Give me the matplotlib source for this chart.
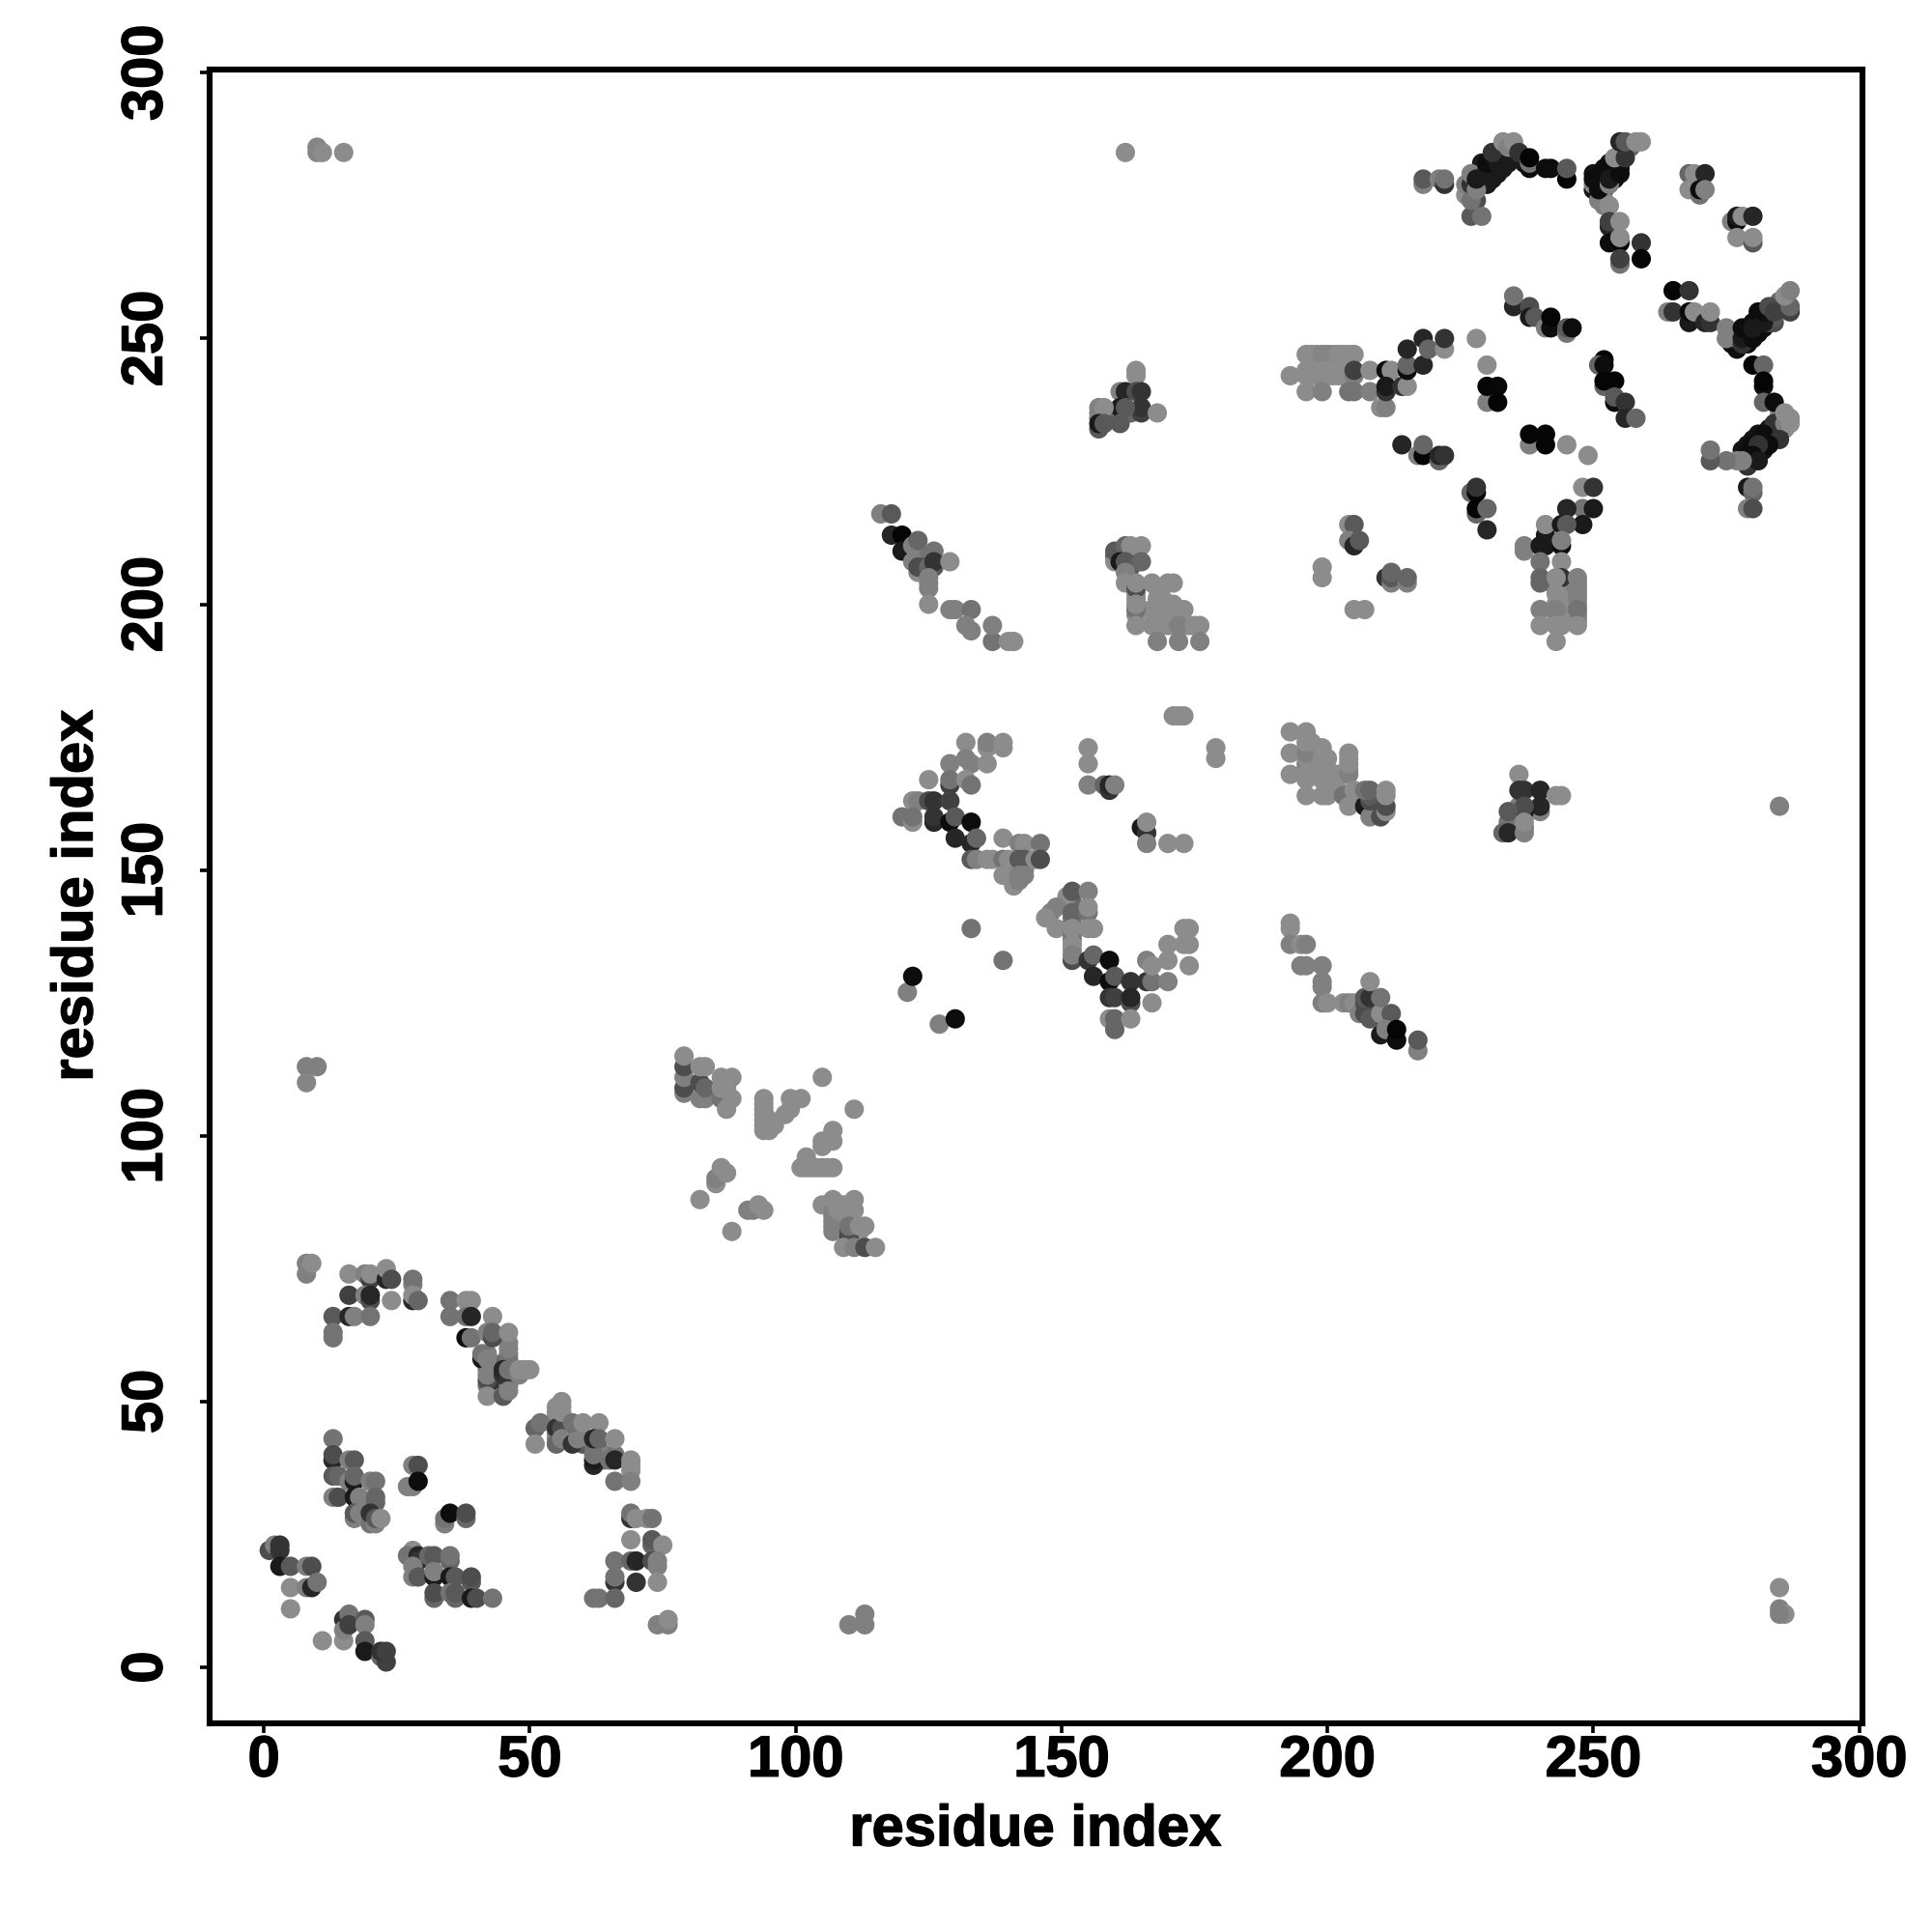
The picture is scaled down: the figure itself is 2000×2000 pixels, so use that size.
import numpy as np
import matplotlib
matplotlib.use("Agg")
import matplotlib.pyplot as plt
import matplotlib.patheffects as pe

plt.rcParams["font.family"] = ["Liberation Sans", "DejaVu Sans"]
plt.rcParams["font.weight"] = "bold"

# ----------------------------
# Contacts: (residue, residue, gray level)
# ----------------------------
dense_light = [
    (197,247,.55),(198,247,.55),(201,247,.55),(204,247,.55),(197,243,.55),(198,243,.55),
    (199,243,.55),(200,243,.55),(202,243,.55),(203,243,.55),(202,244,.55),(201,244,.55),(197,244,.55),
    (196,173,.55),(196,175,.55),(197,172,.55),(197,169,.55),(196,169,.5),(196,170,.5),(197,174,.55),
    (199,172,.55),(199,169,.55),(200,169,.55),(200,167,.55),(204,169,.55),(204,172,.55),
    (202,168,.55),(202,165,.55),(203,168,.55),
    (243,200,.55),(243,198,.55),(244,199,.55),(244,200,.55),(245,199,.55),(245,201,.55),
    (246,200,.5),(246,202,.5),(247,200,.5),(247,202,.5),(247,198,.5),(247,197,.5),(243,197,.55),
    (244,198,.55),(243,203,.55),(247,204,.5),
    (165,199,.55),(164,198,.55),(167,199,.55),(168,198,.55),(169,196,.55),(170,199,.55),
    (170,196,.55),(172,198,.55),(173,196,.55),(174,196,.55),(167,196,.55),(168,200,.55),
    (169,198,.55),(171,198,.55),(169,201,.55),(168,203,.55),(164,201,.55),(164,202,.55),
    (94,102,.55),(94,104,.55),(94,106,.55),(95,102,.55),(95,103,.55),(103,94,.55),(106,94,.55),
    (87,107,.5),(87,109,.5),(87,106,.55),(87,108,.55),(87,110,.55),(106,87,.55),(109,87,.55),
    (110,87,.55),(110,86,.55),(107,83,.5),(107,84,.5),(107,85,.5),(108,84,.5),(110,85,.55),
    (110,84,.55),(111,83,.55),(112,82,.55),(111,82,.55),
]
dense_mid = [
    (42,53,.45),(42,56,.5),(42,59,.5),(43,57,.5),(44,57,.5),(43,54,.2),(46,53,.5),(46,54,.45),
    (46,57,.45),(46,59,.5),(46,61,.5),(47,55,.5),(47,56,.5),(45,57,.4),
    (55,43,.5),(55,44,.5),(55,46,.5),(55,47,.55),(55,48,.55),(56,44,.5),(56,46,.55),(56,47,.55),
    (56,49,.55),(57,43,.5),(57,45,.5),(58,44,.5),(60,43,.5),(60,42,.35),(62,41,.4),(62,42,.45),
    (63,41,.5),(64,39,.45),(64,40,.5),(66,40,.45),(69,37,.55),
    (152,140,.5),(152,141,.45),(152,135,.55),(152,137,.5),(152,143,.5),(152,144,.4),
    (143,150,.5),(142,150,.5),(141,150,.55),(141,149,.55),
    (207,164,.4),(207,163,.3),(208,161,.4),(209,163,.4),(209,162,.35),(210,162,.45),(210,164,.45),
    (206,124,.35),(207,124,.3),(208,124,.35),(208,123,.3),(209,123,.45),(209,124,.4),(211,121,.5),
    (123,209,.5),(124,209,.45),(124,207,.35),(125,204,.5),
    (157,235,.45),(158,235,.45),(159,235,.4),(159,236,.4),(160,235,.4),(163,236,.4),
    (160,209,.35),(161,209,.3),(161,210,.4),(162,209,.35),(163,209,.4),(163,207,.35),
    (237,160,.4),(237,158,.45),(235,158,.4),(235,160,.4),(236,162,.5),
]
dense_dark = [
    (229,279,.1),(229,281,.1),(229,283,.1),(230,279,.1),(230,281,.1),(231,282,.1),(231,284,.1),
    (232,281,.1),(232,285,.15),(233,283,.15),(233,284,.15),(234,283,.1),(234,284,.1),(235,284,.1),
    (236,284,.1),(237,283,.1),(228,276,.3),(227,277,.3),
    (250,281,.08),(250,278,.08),(251,277,.08),(251,279,.08),(251,280,.08),(251,281,.08),(252,278,.08),
    (252,279,.08),(252,280,.08),(252,281,.08),(253,281,.08),(253,283,.08),(254,280,.08),(254,281,.08),
    (254,282,.08),(255,282,.08),(255,283,.08),(252,275,.5),(252,276,.5),(256,285,.4),(257,286,.4),
    (278,228,.08),(278,229,.08),
    (279,230,.08),(279,229,.08),(280,229,.08),(280,231,.08),(281,229,.08),(281,231,.08),(281,232,.08),
    (282,229,.08),(282,230,.08),(283,231,.08),(283,232,.08),(283,233,.08),(284,232,.08),(284,233,.08),
    (285,232,.08),
    (276,250,.06),(276,249,.06),(277,248,.06),(277,249,.06),(277,251,.06),(278,251,.06),(279,249,.06),
    (279,250,.06),(279,251,.06),(279,252,.06),(280,251,.06),(280,253,.06),(281,251,.06),(281,252,.06),
    (281,253,.06),(282,252,.06),(282,254,.06),(283,253,.3),(284,253,.3),(284,254,.35),(285,256,.35),(285,257,.4),
    (285,235,.55),(285,236,.55),(286,235,.55),(286,233,.55),
]
far_contacts = [
    (10,286,.52),(10,285,.52),(11,285,.55),(15,285,.55),(162,285,.55),(285,162,.5),
    (285,15,.55),(285,11,.5),(286,10,.55),(285,10,.5),(110,8,.5),(113,8,.5),(113,10,.5),
    (8,113,.5),(10,113,.5),(8,110,.52),
]
start_cluster = [
    (1,22,.3),(2,23,.5),(3,22,.2),(3,23,.2),(3,19,.1),(5,19,.35),(8,19,.5),(9,19,.3),
    (5,15,.55),(8,15,.5),(9,15,.15),(10,16,.45),(5,11,.55),(11,5,.55),(15,5,.55),
    (15,9,.2),(16,10,.45),(15,7,.5),(16,8,.25),(19,9,.35),(19,8,.5),(19,5,.35),(19,3,.1),
    (22,2,.4),(23,1,.25),(22,3,.2),(23,3,.25),
]
helix_cluster = [
    (13,43,.45),(13,39,.15),(13,40,.3),(16,39,.5),(17,39,.35),(13,36,.35),(14,36,.4),
    (16,35,.5),(17,35,.1),(17,36,.4),(20,35,.5),(21,35,.45),(13,32,.5),(14,32,.3),
    (17,32,.1),(18,32,.5),(21,31,.4),(21,32,.4),(17,28,.5),(17,29,.35),(18,29,.5),
    (20,27,.45),(20,29,.2),(21,27,.5),(21,28,.35),(22,28,.55),
    (28,38,.5),(29,38,.3),(27,34,.5),(28,34,.5),(29,35,.05),
    (34,27,.5),(34,28,.45),(35,29,.05),(38,28,.4),(38,29,.3),
]
sheet_cluster = [
    (28,22,.55),(27,21,.45),(29,21,.15),(29,20,.2),(28,19,.5),(28,17,.5),(29,17,.35),
    (31,21,.4),(32,21,.35),(35,20,.4),(35,21,.45),(32,17,.1),(32,18,.5),(35,17,.1),
    (36,17,.35),(39,16,.35),(39,17,.3),(32,13,.4),(32,14,.3),(35,14,.45),(36,13,.4),
    (36,14,.35),(39,13,.1),(40,13,.3),(43,13,.45),
    (69,28,.2),(69,29,.45),(70,28,.55),(72,28,.55),(73,28,.45),(69,24,.55),(73,23,.4),
    (73,24,.35),(75,23,.55),(66,20,.45),(69,20,.4),(70,20,.15),(73,20,.3),(74,19,.5),
    (74,20,.5),(66,16,.2),(66,17,.45),(70,16,.2),(74,16,.55),(62,13,.45),(63,13,.45),
    (66,13,.4),(74,8,.5),(76,8,.5),(76,9,.55),
]
upper_band = [
    (8,74,.5),(8,76,.5),(9,76,.55),(16,74,.55),(19,74,.5),(20,73,.25),(20,74,.55),
    (23,73,.15),(23,75,.55),(24,73,.3),(28,72,.5),(28,73,.45),(16,70,.25),(19,70,.5),
    (20,69,.3),(20,70,.15),(24,69,.55),(28,69,.15),(28,70,.55),(29,69,.4),(13,66,.35),
    (16,66,.15),(17,66,.5),(20,66,.45),(13,62,.45),(13,63,.45),
    (35,69,.45),(38,69,.55),(39,69,.55),(35,66,.45),(38,66,.45),(39,66,.15),(43,66,.55),
    (38,62,.05),(39,62,.45),(42,63,.5),(43,62,.3),(43,63,.4),(41,58,.1),(41,59,.45),
    (42,58,.5),(46,58,.45),(46,60,.5),(46,63,.55),(42,54,.3),(42,55,.5),(45,55,.2),
    (45,56,.15),(46,55,.2),(46,56,.45),(48,55,.5),(48,56,.55),(49,56,.55),(50,56,.55),
    (42,51,.55),(45,51,.35),(46,52,.5),
    (51,45,.4),(52,46,.45),(51,42,.55),(55,45,.2),(56,45,.3),(55,42,.4),(56,43,.5),
    (55,49,.55),(56,50,.55),(56,48,.55),(58,42,.2),(59,43,.5),(58,46,.45),(60,46,.55),
    (63,46,.55),(62,38,.15),(62,39,.1),(62,40,.45),(62,43,.15),(63,43,.4),(66,43,.55),
    (65,39,.45),(66,39,.15),(69,38,.55),(69,39,.55),(66,35,.45),(69,35,.5),
]
middle_cross = [
    (79,108,.5),(79,109,.3),(79,111,.5),(79,113,.3),(79,115,.55),(82,107,.5),(83,107,.5),
    (82,110,.3),(83,109,.4),(82,113,.55),(83,113,.55),(86,107,.45),(86,109,.55),(86,111,.55),
    (88,107,.55),(88,111,.55),(87,105,.55),
    (94,101,.55),(94,103,.55),(94,105,.55),(94,107,.55),(95,101,.55),(96,102,.55),(98,104,.55),
    (99,105,.55),(99,107,.55),(101,107,.55),(105,111,.55),(111,105,.55),
    (107,101,.55),(105,98,.55),(105,99,.55),(107,99,.55),(102,96,.55),(101,94,.55),(102,94,.55),
    (104,94,.55),(105,94,.55),(107,94,.55),
    (85,91,.55),(85,92,.5),(86,94,.55),(87,93,.55),(82,88,.55),(91,86,.5),(92,86,.5),
    (93,87,.55),(94,86,.55),(88,82,.55),
    (105,87,.55),(107,86,.5),(107,88,.55),(108,86,.55),(111,86,.55),(111,88,.55),
    (107,82,.5),(110,81,.25),(110,82,.3),(110,83,.45),(112,83,.55),(113,83,.55),
    (109,79,.55),(111,79,.5),(113,79,.3),(115,79,.55),
]
central_v = [
    (132,174,.55),(136,173,.55),(136,174,.5),(139,173,.55),(139,174,.55),(129,170,.5),
    (132,171,.5),(133,170,.5),(136,170,.55),(125,167,.55),(129,166,.25),(129,167,.45),
    (132,167,.55),(133,166,.45),(122,163,.55),(123,163,.5),(125,163,.3),(126,163,.2),
    (129,163,.25),(120,160,.45),(122,159,.55),(122,160,.45),(126,159,.15),(126,160,.2),
    (129,159,.05),(130,160,.35),(133,159,.05),(130,156,.15),(133,155,.15),(134,156,.4),
    (139,156,.55),(142,155,.5),(143,155,.55),(146,155,.45),(133,152,.35),(134,152,.5),
    (136,152,.55),(137,152,.55),(139,152,.45),(140,152,.55),(142,152,.35),(143,152,.35),
    (145,152,.55),(146,152,.3),(139,149,.55),(142,149,.5),(143,149,.5),(141,147,.55),
    (142,148,.5),(151,145,.55),(152,146,.35),(155,146,.5),(149,143,.5),(148,142,.5),
    (147,141,.55),(152,142,.4),(155,142,.45),(155,143,.55),(149,139,.55),(152,138,.45),
    (152,139,.55),(155,139,.55),(156,139,.55),(152,136,.55),(152,133,.3),(152,134,.5),
    (155,133,.2),(156,134,.4),(159,133,.05),(156,130,.15),(159,129,.05),(160,130,.35),
    (163,129,.2),(166,129,.2),(167,129,.45),(170,129,.5),(159,126,.2),(160,126,.25),
    (163,125,.3),(163,126,.15),(167,125,.55),(159,122,.55),(160,120,.4),(160,122,.4),
    (163,122,.55),(166,133,.5),(167,132,.55),(170,136,.55),(173,136,.55),(174,136,.55),
    (173,139,.55),(174,139,.55),(170,133,.55),(174,132,.55),
    (133,139,.45),(139,133,.45),(121,127,.5),(122,130,.05),(127,121,.5),(130,122,.05),
    (155,173,.55),(155,170,.55),(155,166,.5),(158,166,.4),(159,165,.2),(159,166,.15),
    (160,166,.5),(165,158,.1),(166,157,.2),(166,159,.55),(166,155,.5),(170,155,.55),
    (173,155,.55),(171,179,.55),(172,179,.55),(173,179,.55),(179,171,.55),(179,173,.55),
]
right_middle = [
    (193,176,.55),(196,176,.55),(193,172,.55),(196,171,.55),(196,172,.5),(196,174,.55),
    (193,168,.55),(196,167,.55),(196,168,.55),(196,164,.55),(199,173,.55),(199,171,.55),
    (200,171,.55),(199,170,.55),(199,167,.55),(199,164,.55),(200,164,.55),(201,168,.55),
    (204,168,.5),(204,170,.55),(204,171,.55),(203,164,.45),(204,162,.55),(205,165,.55),
    (207,162,.1),(208,160,.5),(208,163,.3),(208,164,.35),(207,165,.45),(208,165,.4),
    (210,160,.3),(211,161,.55),(211,162,.3),(211,164,.55),(211,165,.55),
    (236,168,.55),(236,165,.2),(237,165,.2),(240,165,.15),(240,161,.5),(240,162,.15),
    (237,161,.1),(237,162,.3),(234,159,.45),(234,161,.35),(233,157,.4),(234,157,.15),
    (237,157,.5),(237,159,.55),(243,164,.55),(244,164,.55),
    (193,139,.55),(193,140,.55),(193,136,.5),(195,136,.55),(196,136,.5),(195,132,.5),
    (196,132,.5),(199,132,.5),(199,128,.5),(199,129,.5),(199,125,.5),(200,125,.55),
    (203,125,.55),(204,125,.5),(205,125,.55),(206,123,.5),(207,123,.3),(207,125,.3),
    (207,126,.35),(208,122,.35),(208,126,.2),(208,129,.55),(210,123,.55),(210,126,.45),
    (212,123,.35),(210,119,.1),(211,120,.5),(213,118,.05),(213,120,.02),(217,116,.5),(217,118,.35),
]
upper_middle = [
    (116,217,.5),(118,217,.35),(118,213,.15),(120,213,.02),(120,210,.1),(122,211,.5),
    (123,212,.4),(122,208,.5),(126,210,.45),(123,206,.55),(123,207,.3),(125,207,.4),
    (126,207,.35),(126,208,.2),(129,208,.55),(125,203,.5),(125,205,.5),(125,200,.55),
    (129,199,.5),(130,199,.5),(133,199,.45),(133,195,.5),(132,196,.5),(137,193,.45),
    (137,196,.5),(140,193,.55),(141,193,.55),
    (164,243,.55),(164,244,.55),(161,240,.5),(162,240,.15),(164,240,.3),(165,240,.2),
    (165,236,.25),(165,237,.2),(168,236,.55),(161,237,.1),(162,237,.35),(157,236,.5),
    (157,237,.5),(158,237,.55),(157,233,.35),(157,234,.1),(158,234,.35),(161,234,.35),
    (160,208,.55),(160,210,.35),(162,211,.4),(163,211,.55),(165,211,.55),(161,208,.1),
    (162,208,.35),(165,208,.4),(162,206,.5),(162,204,.55),(164,203,.3),(164,204,.55),
    (167,204,.55),(170,204,.55),(171,204,.55),(164,199,.45),(164,200,.55),(168,199,.55),
    (168,201,.55),(171,200,.55),(173,199,.55),(164,196,.55),(168,196,.55),(171,196,.55),
    (172,196,.5),(175,196,.55),(176,196,.55),(168,193,.5),(172,193,.5),(176,193,.5),
]
top_right_left = [
    (196,247,.55),(199,247,.52),(200,247,.52),(202,247,.55),(203,247,.55),(205,247,.55),
    (193,243,.55),(196,243,.55),(196,244,.55),(199,244,.55),(200,244,.55),(201,243,.55),
    (203,244,.55),(205,243,.5),(205,244,.25),(208,244,.55),(196,240,.55),(199,240,.5),
    (204,240,.45),(205,240,.45),(208,240,.5),(210,237,.55),(211,237,.5),(211,244,.05),
    (212,244,.55),(211,240,.2),(211,241,.1),(214,241,.2),(215,241,.55),(215,244,.05),
    (215,245,.4),(215,248,.15),(218,245,.15),(218,250,.15),(219,248,.4),(222,248,.55),
    (222,250,.2),(228,250,.55),(230,245,.55),(230,238,.5),(230,241,.02),(232,241,.03),
    (232,238,.02),(214,230,.15),(217,228,.5),(218,228,.02),(218,230,.4),(221,227,.4),
    (221,228,.15),(222,228,.2),(238,230,.5),(238,232,.02),(241,230,.02),(241,232,.02),
    (245,230,.55),(249,228,.55),
    (227,221,.4),(228,221,.02),(228,222,.2),(228,217,.4),(228,218,.02),(230,218,.4),(230,214,.15),
    (248,222,.55),(250,222,.2),(248,218,.45),(245,218,.15),(250,218,.1),(248,215,.1),
    (241,213,.1),(241,215,.55),(244,215,.1),(245,215,.35),(237,210,.5),(237,211,.5),
    (240,211,.1),(241,211,.1),(244,211,.05),(244,212,.5),(240,208,.45),(244,208,.55),
    (240,204,.4),(240,205,.4),(244,205,.2),(243,205,.55),(247,203,.5),(247,205,.5),
    (243,202,.55),(244,201,.55),(247,201,.5),(247,199,.45),(243,199,.5),(240,199,.5),
    (240,196,.55),(243,196,.55),(244,196,.55),(247,196,.55),(243,193,.55),
    (199,205,.55),(199,207,.55),(204,215,.55),(205,215,.35),(204,212,.5),(205,211,.15),
    (206,212,.35),(211,205,.2),(212,204,.5),(212,205,.35),(212,206,.4),(215,204,.5),
    (215,205,.4),(205,199,.55),(207,199,.55),
]
top_right_arcs = [
    (218,279,.5),(218,280,.35),(221,280,.5),(222,279,.2),(222,280,.45),(226,277,.55),
    (226,279,.5),(227,273,.35),(229,273,.45),(227,276,.45),(227,279,.2),(227,281,.5),
    (228,278,.5),(228,280,.1),(230,282,.1),(231,280,.1),(230,283,.05),(232,283,.1),
    (233,282,.1),(231,285,.2),(233,287,.55),(234,286,.5),(235,287,.55),(236,285,.2),
    (238,282,.05),(238,283,.45),(238,284,.02),(241,282,.05),(242,282,.05),(245,280,.02),(245,282,.35),
    (250,279,.5),(250,280,.05),(251,276,.5),(251,278,.05),(252,282,.05),(253,279,.5),
    (253,280,.1),(255,281,.05),(254,284,.55),(256,284,.2),(255,287,.15),(256,287,.35),
    (258,287,.55),(259,287,.55),(253,275,.55),(253,271,.15),(253,272,.25),(255,272,.55),
    (253,268,.05),(255,268,.02),(255,269,.55),(259,268,.2),(259,265,.02),(255,264,.45),(255,265,.25),
    (268,281,.4),(269,281,.55),(268,278,.55),(271,281,.15),(270,277,.45),(270,278,.05),
    (271,278,.5),(276,272,.5),(277,272,.05),(277,273,.1),(278,273,.55),(280,273,.15),
    (277,269,.55),(280,268,.35),(280,269,.55),
    (235,256,.15),(235,258,.45),(238,256,.3),(238,254,.1),(239,254,.35),(241,252,.5),
    (242,252,.05),(242,254,.02),(245,251,.45),(245,252,.35),(246,252,.05),
    (252,246,.02),(251,245,.4),(252,245,.05),(252,241,.4),(252,242,.02),(254,242,.02),
    (254,238,.05),(254,239,.35),(256,238,.2),(256,235,.15),(258,235,.4),
    (265,259,.02),(268,259,.2),(264,255,.5),(265,255,.2),(268,253,.1),(268,255,.05),
    (269,255,.55),(271,253,.15),(272,253,.2),(272,255,.55),(275,250,.5),(275,252,.5),
    (277,250,.5),(278,249,.2),(278,250,.1),(278,252,.05),(280,250,.05),(280,252,.1),
    (281,255,.05),(282,253,.1),(282,255,.05),(283,256,.3),(284,255,.25),(287,255,.25),
    (287,256,.4),(286,258,.55),(287,259,.5),
    (280,245,.02),(282,245,.4),(282,241,.05),(282,242,.02),(282,238,.4),(284,238,.05),
    (284,234,.2),(285,233,.2),(286,234,.5),(286,236,.55),(287,234,.55),(287,235,.55),
    (282,232,.05),(285,231,.2),(283,230,.05),(280,230,.05),(281,230,.2),(279,228,.05),
    (280,228,.05),(279,226,.2),(281,227,.1),(277,227,.5),(278,227,.5),(275,227,.45),
    (272,227,.35),(272,229,.45),(279,222,.1),(280,221,.4),(280,222,.45),(279,218,.5),(280,218,.3),
]

x_ticks = [0, 50, 100, 150, 200, 250, 300]
y_ticks = [0, 50, 100, 150, 200, 250, 300]

# ----------------------------
# Plot
# ----------------------------
fig = plt.figure(figsize=(10, 10), dpi=200)
ax = fig.add_axes([216.5/2000, 1 - 1783.5/2000, 1711.5/2000, 1711.5/2000])

groups = [dense_light, dense_mid, dense_dark, far_contacts, start_cluster, helix_cluster,
          sheet_cluster, upper_band, middle_cross, central_v, right_middle, upper_middle,
          top_right_left, top_right_arcs]
for group in groups:
    pts = np.array(group)
    ax.scatter(pts[:, 0], pts[:, 1], s=52, c=[str(g) for g in pts[:, 2]], linewidths=0)

ax.set_xlim(-10.3, 300.6)
ax.set_ylim(-10.45, 300.6)
ax.set_xticks(x_ticks)
ax.set_yticks(y_ticks)
ax.tick_params(axis="x", length=3.6, width=1.3, labelsize=21.5, pad=0.8)
ax.tick_params(axis="y", length=3.6, width=1.3, labelsize=21.5, pad=9.7)
plt.setp(ax.get_yticklabels(), rotation=90, va="center")

for spine in ax.spines.values():
    spine.set_linewidth(2.2)

heavy = [pe.withStroke(linewidth=0.5, foreground="black")]
for label in ax.get_xticklabels() + ax.get_yticklabels():
    label.set_path_effects(heavy)

fig.text(1072/2000, 1 - 1895/2000, "residue index", fontsize=21.5, ha="center", va="center",
         path_effects=heavy)
fig.text(80/2000, 1 - 927/2000, "residue index", fontsize=21.5, ha="center", va="center",
         rotation=90, path_effects=heavy)

plt.savefig("out.png", dpi=200)
